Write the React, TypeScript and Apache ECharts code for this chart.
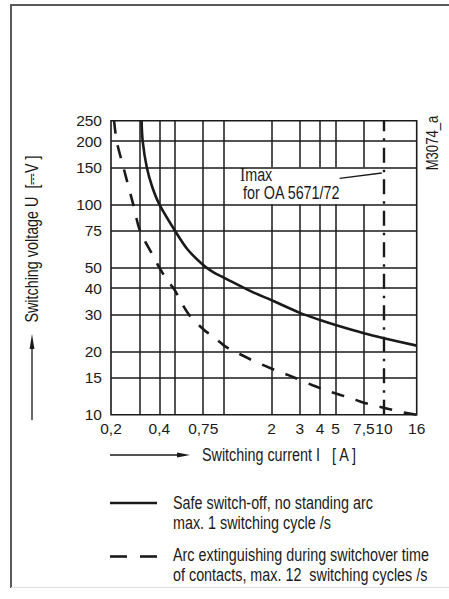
import React, { useEffect, useRef } from 'react';
import * as echarts from 'echarts';

// ---- data ----
const xTickValues = [0.2, 0.4, 0.75, 2, 3, 4, 5, 7.5, 10, 16];
const yTickValues = [10, 15, 20, 30, 40, 50, 75, 100, 150, 200, 250];
const xGridValues = [0.3, 0.4, 0.5, 0.75, 1, 2, 3, 4, 5, 7.5];
const yGridValues = [15, 20, 30, 40, 50, 75, 100, 150, 200];
const xGridInterrupted = [2, 3, 4, 5, 7.5];
const annotationVoltageBand = [100, 150];
const currentRange = [0.2, 16];
const voltageRange = [10, 250];

const safeCurrent = [0.31, 0.315, 0.334, 0.36, 0.4, 0.5, 0.6, 0.75, 0.87, 1, 1.5, 2, 3, 4, 5, 7.5, 10, 16];
const safeVoltage = [250, 200, 150, 122, 100, 75, 61, 51.5, 47.5, 45, 38.5, 35, 30.5, 28.2, 26.7, 24.4, 23.1, 21.3];

const arcCurrent = [0.209, 0.217, 0.239, 0.275, 0.303, 0.37, 0.4, 0.44, 0.5, 0.55, 0.62, 0.76, 0.89, 1.04, 1.22, 1.48, 2.1, 2.5, 3.6, 4.3, 5.2, 6.2, 7.5, 9, 10.7, 12.9, 16];
const arcVoltage = [250, 200, 150, 100, 75, 56, 50, 44.5, 39, 34, 29.5, 25.3, 23.1, 21, 19.7, 18.3, 16.3, 15.5, 13.8, 13.1, 12.5, 12, 11.4, 11.0, 10.65, 10.3, 10];

const imaxCurrent = 10;
const leaderFrom = [5.3, 133];
const leaderTo = [9.7, 141];

const safeName = 'Safe switch-off, no standing arc\nmax. 1 switching cycle /s';
const arcName = 'Arc extinguishing during switchover time\nof contacts, max. 12  switching cycles /s';

// ---- helpers ----
const L = (v: number) => Math.log10(v);
const FONT = '"Liberation Sans", Arial, sans-serif';
const INK = '#1a1a1a';
const FS = 17.5;
const NARROW = 0.82;

const fmt = (list: number[]) => (val: number) => {
  let best = list[0];
  for (const v of list) if (Math.abs(L(v) - val) < Math.abs(L(best) - val)) best = v;
  return String(best).replace('.', ',');
};

function txt(x: number, y: number, text: string, extra: any = {}, el: any = {}) {
  return {
    type: 'text', x, y, silent: true, scaleX: NARROW, ...el,
    style: { text, fill: INK, fontSize: FS, fontFamily: FONT, align: 'left', verticalAlign: 'middle', ...extra },
  };
}
function ln(x1: number, y1: number, x2: number, y2: number, stroke = INK, lineWidth = 1.5, extra: any = {}) {
  return { type: 'line', silent: true, shape: { x1, y1, x2, y2 }, style: { stroke, lineWidth, ...extra } };
}

export default function App() {
  const ref = useRef<HTMLDivElement>(null);
  useEffect(() => {
    if (!ref.current) return;
    const chart = echarts.init(ref.current, undefined, { renderer: 'svg' });

    const gridStyle = { color: INK, width: 1.5, type: 'solid' };
    const gridLines: any[] = [];
    xGridValues.forEach((x) => {
      if (xGridInterrupted.includes(x)) {
        gridLines.push([{ coord: [L(x), L(voltageRange[0])] }, { coord: [L(x), L(annotationVoltageBand[0])] }]);
        gridLines.push([{ coord: [L(x), L(annotationVoltageBand[1])] }, { coord: [L(x), L(voltageRange[1])] }]);
      } else {
        gridLines.push([{ coord: [L(x), L(voltageRange[0])] }, { coord: [L(x), L(voltageRange[1])] }]);
      }
    });
    yGridValues.forEach((y) => {
      gridLines.push([{ coord: [L(currentRange[0]), L(y)] }, { coord: [L(currentRange[1]), L(y)] }]);
    });
    gridLines.push([
      { coord: [L(imaxCurrent), L(voltageRange[0])], lineStyle: { color: INK, width: 2.4, type: [15, 7, 2.5, 7] } },
      { coord: [L(imaxCurrent), L(voltageRange[1])] },
    ]);
    gridLines.push([
      { coord: [L(leaderFrom[0]), L(leaderFrom[1])], lineStyle: { color: INK, width: 1.3, type: 'solid' } },
      { coord: [L(leaderTo[0]), L(leaderTo[1])] },
    ]);

    const option: any = {
      animation: false,
      backgroundColor: '#ffffff',
      grid: {
        left: 111, top: 120.7, width: 305.7, height: 294,
        show: true, borderColor: INK, borderWidth: 1.6, backgroundColor: 'transparent',
        containLabel: false, outerBoundsMode: 'none',
      },
      xAxis: {
        type: 'value', min: L(currentRange[0]), max: L(currentRange[1]),
        axisLine: { show: false }, axisTick: { show: false }, splitLine: { show: false },
        axisLabel: {
          customValues: xTickValues.map(L), formatter: fmt(xTickValues),
          color: INK, fontSize: 15.5, fontFamily: FONT, margin: 6,
        },
      },
      yAxis: {
        type: 'value', min: L(voltageRange[0]), max: L(voltageRange[1]),
        axisLine: { show: false }, axisTick: { show: false }, splitLine: { show: false },
        axisLabel: {
          customValues: yTickValues.map(L), formatter: fmt(yTickValues),
          color: INK, fontSize: 15.5, fontFamily: FONT, margin: 9,
        },
      },
      series: [
        {
          name: 'grid', type: 'line', data: [], silent: true, z: 1,
          markLine: {
            silent: true, symbol: ['none', 'none'], label: { show: false }, z: 1,
            lineStyle: gridStyle, emphasis: { disabled: true },
            data: gridLines,
          },
        },
        {
          name: safeName, type: 'line', smooth: 0.3, showSymbol: false, z: 3,
          lineStyle: { color: INK, width: 2.6 },
          data: safeCurrent.map((x, i) => [L(x), L(safeVoltage[i])]),
        },
        {
          name: arcName, type: 'line', smooth: 0.3, showSymbol: false, z: 3,
          lineStyle: { color: INK, width: 2.6, type: [13, 12] },
          data: arcCurrent.map((x, i) => [L(x), L(arcVoltage[i])]),
        },
      ],
      graphic: [
        // frame
        ln(10, 5, 449, 5, '#5a5a5a', 2),
        ln(11, 4, 11, 588, '#5a5a5a', 2),
        ln(11, 587.5, 449, 587.5, '#dddddd', 1),
        // code
        txt(433, 143, 'M3074_a', { align: 'center', fontSize: 16 }, { rotation: Math.PI / 2 }),
        // annotation
        txt(240, 175, '{i|I}max', { rich: { i: { fontFamily: '"Liberation Serif", "DejaVu Serif", serif', fontSize: 19, fill: INK } } }),
        txt(243, 193, 'for OA 5671/72'),
        // y title
        txt(32, 239, 'Switching voltage U  [\u2393V ]', { align: 'center' }, { rotation: Math.PI / 2 }),
        ln(32, 420, 32, 345, INK, 1.3),
        { type: 'polygon', silent: true, shape: { points: [[29.6, 349], [32, 334], [34.4, 349]] }, style: { fill: INK } },
        // x title
        ln(110, 455, 182, 455, INK, 1.3),
        { type: 'polygon', silent: true, shape: { points: [[177, 452.6], [190, 455], [177, 457.4]] }, style: { fill: INK } },
        txt(202, 455, 'Switching current I   [ A ]'),
        // legend
        ln(110, 503, 157, 503, INK, 2.6),
        txt(173, 503, 'Safe switch-off, no standing arc'),
        txt(173, 523, 'max. 1 switching cycle /s'),
        ln(110, 556.5, 127, 556.5, INK, 2.6),
        ln(140, 556.5, 157, 556.5, INK, 2.6),
        txt(173, 555, 'Arc extinguishing during switchover time'),
        txt(173, 575, 'of contacts, max. 12  switching cycles /s'),
      ],
    };
    chart.setOption(option);
    return () => chart.dispose();
  }, []);
  return <div ref={ref} style={{ position: 'absolute', left: 0, top: 0, width: 449, height: 599 }} />;
}
